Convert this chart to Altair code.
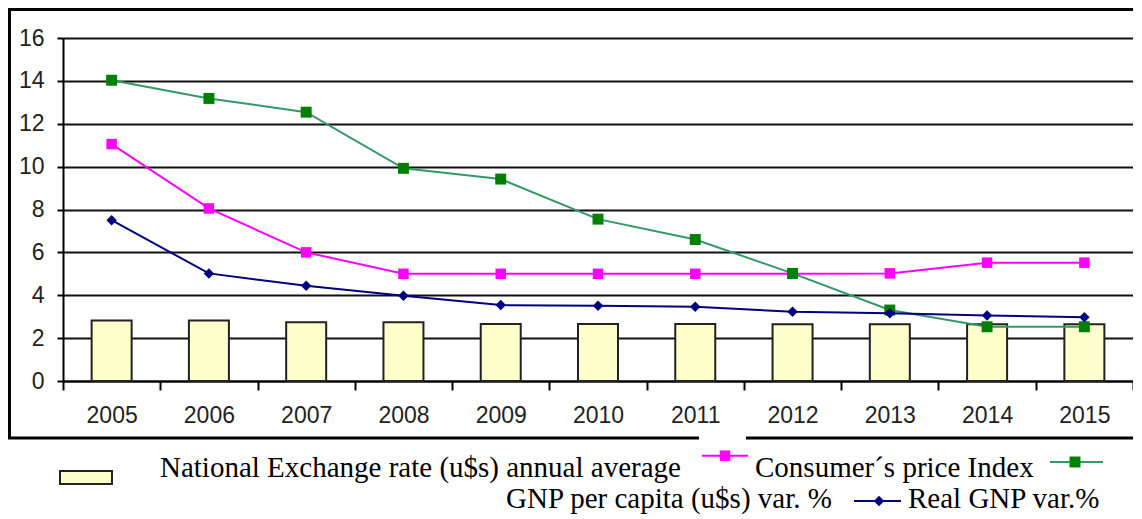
import altair as alt
import pandas as pd

years = ["2005", "2006", "2007", "2008", "2009", "2010", "2011", "2012", "2013", "2014", "2015"]
exchange_rate = [2.82, 2.82, 2.74, 2.74, 2.66, 2.66, 2.66, 2.65, 2.65, 2.65, 2.65]
consumer_price = [11.05, 8.05, 6.0, 5.0, 5.0, 5.0, 5.0, 5.0, 5.02, 5.52, 5.52]
gnp_per_capita = [14.03, 13.18, 12.54, 9.92, 9.42, 7.55, 6.6, 5.02, 3.31, 2.53, 2.53]
real_gnp = [7.5, 5.02, 4.44, 3.98, 3.54, 3.51, 3.46, 3.23, 3.16, 3.06, 2.97]
y_ticks = [0, 2, 4, 6, 8, 10, 12, 14, 16]
legend_labels = [
    "National Exchange rate (u$s) annual average",
    "Consumer\u00b4s price Index",
    "GNP per capita (u$s) var. %",
    "Real GNP var.%",
]

df = pd.DataFrame({
    "year": years,
    "exchange": exchange_rate,
    "cpi": consumer_price,
    "gnp_pc": gnp_per_capita,
    "real": real_gnp,
})

W, H = 1070, 343
AXIS_FONT = "Liberation Sans"
LEG_FONT = "Liberation Serif"


def X():
    return alt.X(
        "year:O", title=None,
        scale=alt.Scale(paddingInner=0, paddingOuter=0),
        axis=alt.Axis(labelAngle=0, labelFont=AXIS_FONT, labelFontSize=23,
                      labelColor="#222", labelPadding=14, tickSize=9,
                      tickColor="#000", tickWidth=2, domainColor="#000",
                      domainWidth=2, tickBand="extent", grid=False),
    )


def Y(field):
    return alt.Y(
        f"{field}:Q", title=None,
        scale=alt.Scale(domain=[0, 16], nice=False, zero=True),
        axis=alt.Axis(values=y_ticks, grid=True, gridColor="#111", gridWidth=2,
                      tickSize=6, tickColor="#000", tickWidth=2,
                      domainColor="#000", domainWidth=2, labelFont=AXIS_FONT,
                      labelFontSize=23, labelColor="#222", labelPadding=13),
    )


base = alt.Chart(df)

bars = base.mark_bar(size=40, fill="#FFFFCC", stroke="#222", strokeWidth=2).encode(
    x=X(), y=Y("exchange"))

pink_line = base.mark_line(color="#FF00FF", strokeWidth=2).encode(x=X(), y=Y("cpi"))
pink_pts = base.mark_point(shape="square", filled=True, size=110, color="#FF00FF",
                           opacity=1).encode(x=X(), y=Y("cpi"))

green_line = base.mark_line(color="#339966", strokeWidth=2).encode(x=X(), y=Y("gnp_pc"))
green_pts = base.mark_point(shape="square", filled=True, size=120, color="#008000",
                            opacity=1).encode(x=X(), y=Y("gnp_pc"))

blue_line = base.mark_line(color="#000080", strokeWidth=2).encode(x=X(), y=Y("real"))
blue_pts = base.mark_point(shape="diamond", filled=True, size=110, color="#000080",
                           opacity=1).encode(x=X(), y=Y("real"))

one = pd.DataFrame({"k": [0]})


def rule(x1, x2, y1, y2, color="#000", w=3):
    return alt.Chart(one).mark_rule(color=color, strokeWidth=w).encode(
        x=alt.value(x1), x2=alt.value(x2), y=alt.value(y1), y2=alt.value(y2))


def rect(x1, x2, y1, y2, fill, stroke=None, w=0):
    kw = dict(fill=fill)
    if stroke:
        kw.update(stroke=stroke, strokeWidth=w)
    return alt.Chart(one).mark_rect(**kw).encode(
        x=alt.value(x1), x2=alt.value(x2), y=alt.value(y1), y2=alt.value(y2))


def label(text, x, y):
    return alt.Chart(pd.DataFrame({"t": [text]})).mark_text(
        font=LEG_FONT, fontSize=29, color="#000", align="left",
        baseline="alphabetic").encode(x=alt.value(x), y=alt.value(y), text="t:N")


def sym(x, y, shape, color, size):
    return alt.Chart(one).mark_point(shape=shape, filled=True, size=size, color=color,
                                     opacity=1).encode(x=alt.value(x), y=alt.value(y))


# outer frame
frame = [
    rule(-55, W, -28.5, -28.5),
    rule(-53.5, -53.5, -30, 401),
    rule(-55, W, 400, 400),
    rect(636, 683, 396, 404, "#FFFFFF"),
]

legend = [
    rect(-3, 49, 433, 446, "#FFFFCC", "#222", 2),
    label(legend_labels[0], 97, 438.7),
    rule(639, 685, 417.7, 417.7, "#FF00FF", 2),
    sym(662, 417.7, "square", "#FF00FF", 110),
    label(legend_labels[1], 692, 438.7),
    rule(987, 1040, 424, 424, "#339966", 2),
    sym(1012, 424, "square", "#008000", 120),
    label(legend_labels[2], 443, 470),
    rule(791, 838, 463, 463, "#000080", 2),
    sym(816, 463, "diamond", "#000080", 110),
    label(legend_labels[3], 845, 470),
]

chart = alt.layer(
    bars, pink_line, pink_pts, green_line, green_pts, blue_line, blue_pts,
    *frame, *legend,
).properties(
    width=W, height=H,
    padding={"left": 55, "top": 30, "right": 0, "bottom": 138},
    autosize=alt.AutoSizeParams(type="none"),
).configure_view(stroke="#555", strokeWidth=2).configure(background="white")

chart.save("out.html", embed_options={"renderer": "svg", "actions": False})
